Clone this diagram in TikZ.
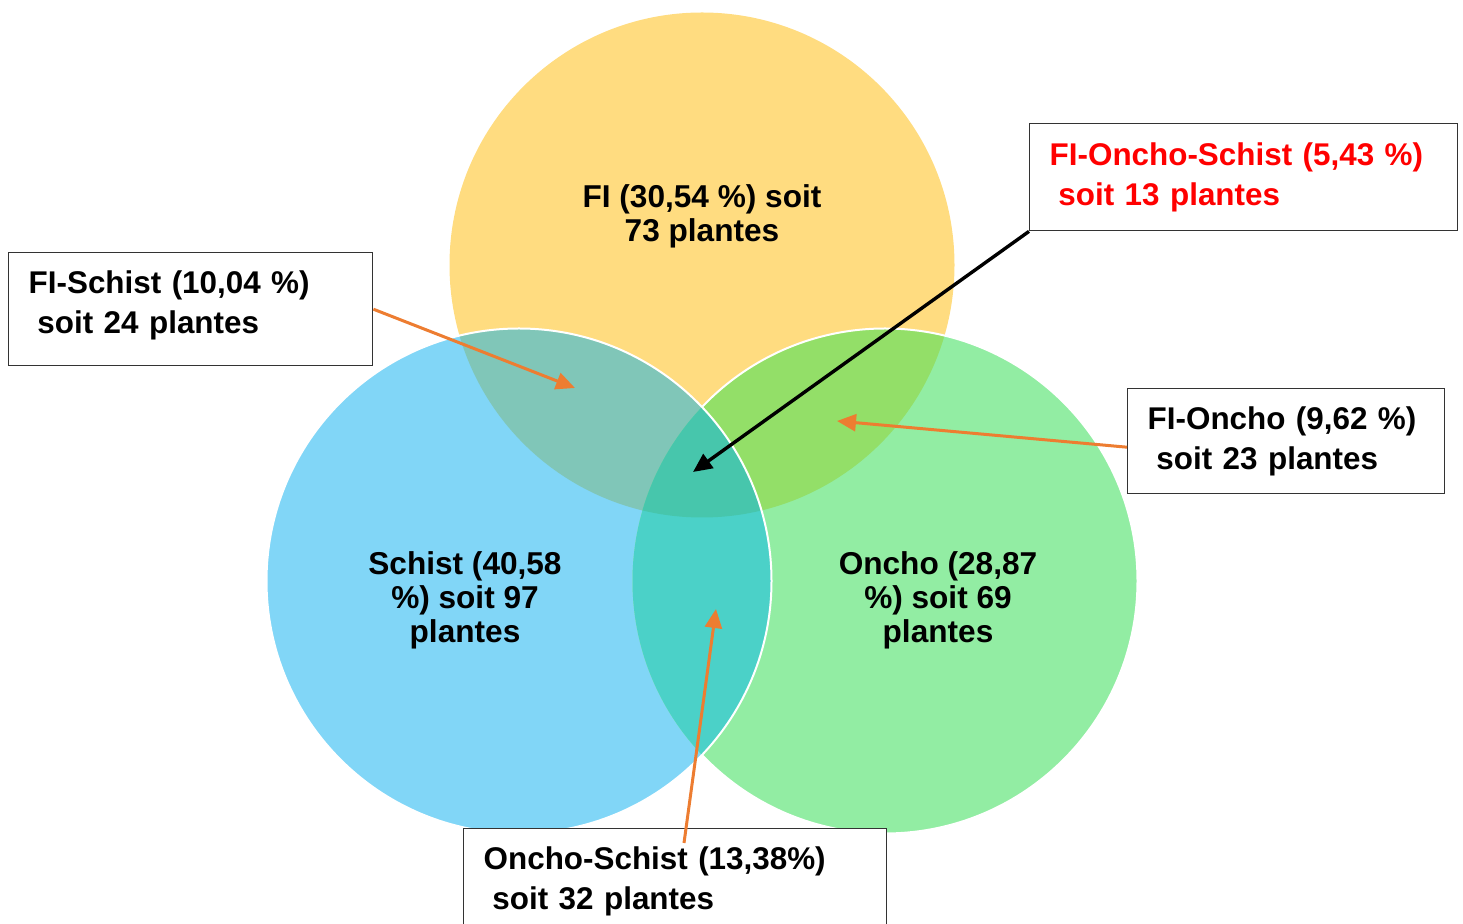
\documentclass[tikz,border=0pt]{standalone}
\usepackage{fontspec}
\setmainfont{Liberation Sans}
\usetikzlibrary{arrows.meta}
\definecolor{fiyellow}{HTML}{FFDC80}
\definecolor{schblue}{HTML}{81D6F7}
\definecolor{onchgreen}{HTML}{92EDA3}
\definecolor{fischist}{HTML}{80C6B8}
\definecolor{fioncho}{HTML}{93DF68}
\definecolor{onchschist}{HTML}{4BD1C8}
\definecolor{allthree}{HTML}{47C6AC}
\definecolor{arrorange}{HTML}{ED7D31}
\newcommand{\venrad}{252.5}

\begin{document}
\begin{tikzpicture}[x=0.5pt,y=-0.5pt,
		lbl/.style={font=\bfseries\fontsize{15.8}{17}\selectfont,align=center},
		box/.style={draw=black!80,line width=0.7pt,fill=white,anchor=north west,inner xsep=10pt,align=left,font=\bfseries\fontsize{15.7}{20}\selectfont},
		pointer/.style={arrorange,line width=1.5pt,-{Triangle[length=9.5pt,width=8.5pt]}}]
		\useasboundingbox (0,0) rectangle (1463,924);
		\coordinate (cFI) at (702,265);
		\coordinate (cS) at (519,581);
		\coordinate (cO) at (885,581);
		%\draw[help lines] (0,0) grid[step=100] (1463,924);
		\foreach \c/\col in {cFI/fiyellow,cS/schblue,cO/onchgreen}{
			\fill[\col] (\c) circle[radius=\venrad];
		}
		\foreach \a/\b/\col in {cFI/cS/fischist,cFI/cO/fioncho,cS/cO/onchschist}{
			\begin{scope}
				\clip (\a) circle[radius=\venrad];
				\fill[\col] (\b) circle[radius=\venrad];
			\end{scope}
		}
		\begin{scope}
			\clip (cFI) circle[radius=\venrad];
			\clip (cS) circle[radius=\venrad];
			\fill[allthree] (cO) circle[radius=\venrad];
		\end{scope}
		% white rims
		\begin{scope}[even odd rule]
			\clip (-10,-10) rectangle (1473,934) (cS) circle[radius=\venrad];
			\draw[white,line width=1pt] (cO) circle[radius=\venrad];
		\end{scope}
		\draw[white,line width=1pt] (cS) circle[radius=\venrad];
		
		\node[lbl] (fi) at (702,216) {FI (30,54 \%) soit\\73 plantes};
		\node[lbl] (schist) at (465,600) {Schist (40,58\\\%) soit 97\\plantes};
		\node[lbl] (oncho) at (938,600) {Oncho (28,87\\\%) soit 69\\plantes};
		
		\node[box,minimum width=182pt,minimum height=56.5pt,text width=162pt,text depth=27.3pt] (fis) at (8,252) {FI-Schist (10,04 \%)\\\hspace*{0.278em}soit 24 plantes};
		\node[box,minimum width=214pt,minimum height=53.5pt,text width=194pt,text=red] (fos) at (1029,123) {FI-Oncho-Schist (5,43 \%)\\\hspace*{0.278em}soit 13 plantes};
		\node[box,minimum width=158.5pt,minimum height=52.5pt,text width=138.5pt] (fo) at (1127,388) {FI-Oncho (9,62 \%)\\\hspace*{0.278em}soit 23 plantes};
		\node[box,minimum width=211.5pt,minimum height=52.5pt,text width=191.5pt] (os) at (463,828) {Oncho-Schist (13,38\%)\\\hspace*{0.278em}soit 32 plantes};
		
		\coordinate (tFIS) at (575,388);
		\coordinate (tFO) at (837,421);
		\coordinate (tAll) at (693,472);
		\coordinate (tOS) at (716,609);
		\coordinate (sOS) at (684,843);
		\draw[pointer] (fis.east) -- (tFIS);
		\draw[pointer] ([yshift=-3pt]fo.west) -- (tFO);
		\draw[pointer] (sOS) -- (tOS);
		\draw[pointer,black,line width=1.7pt] (fos.south west) -- (tAll);
\end{tikzpicture}
\end{document}
